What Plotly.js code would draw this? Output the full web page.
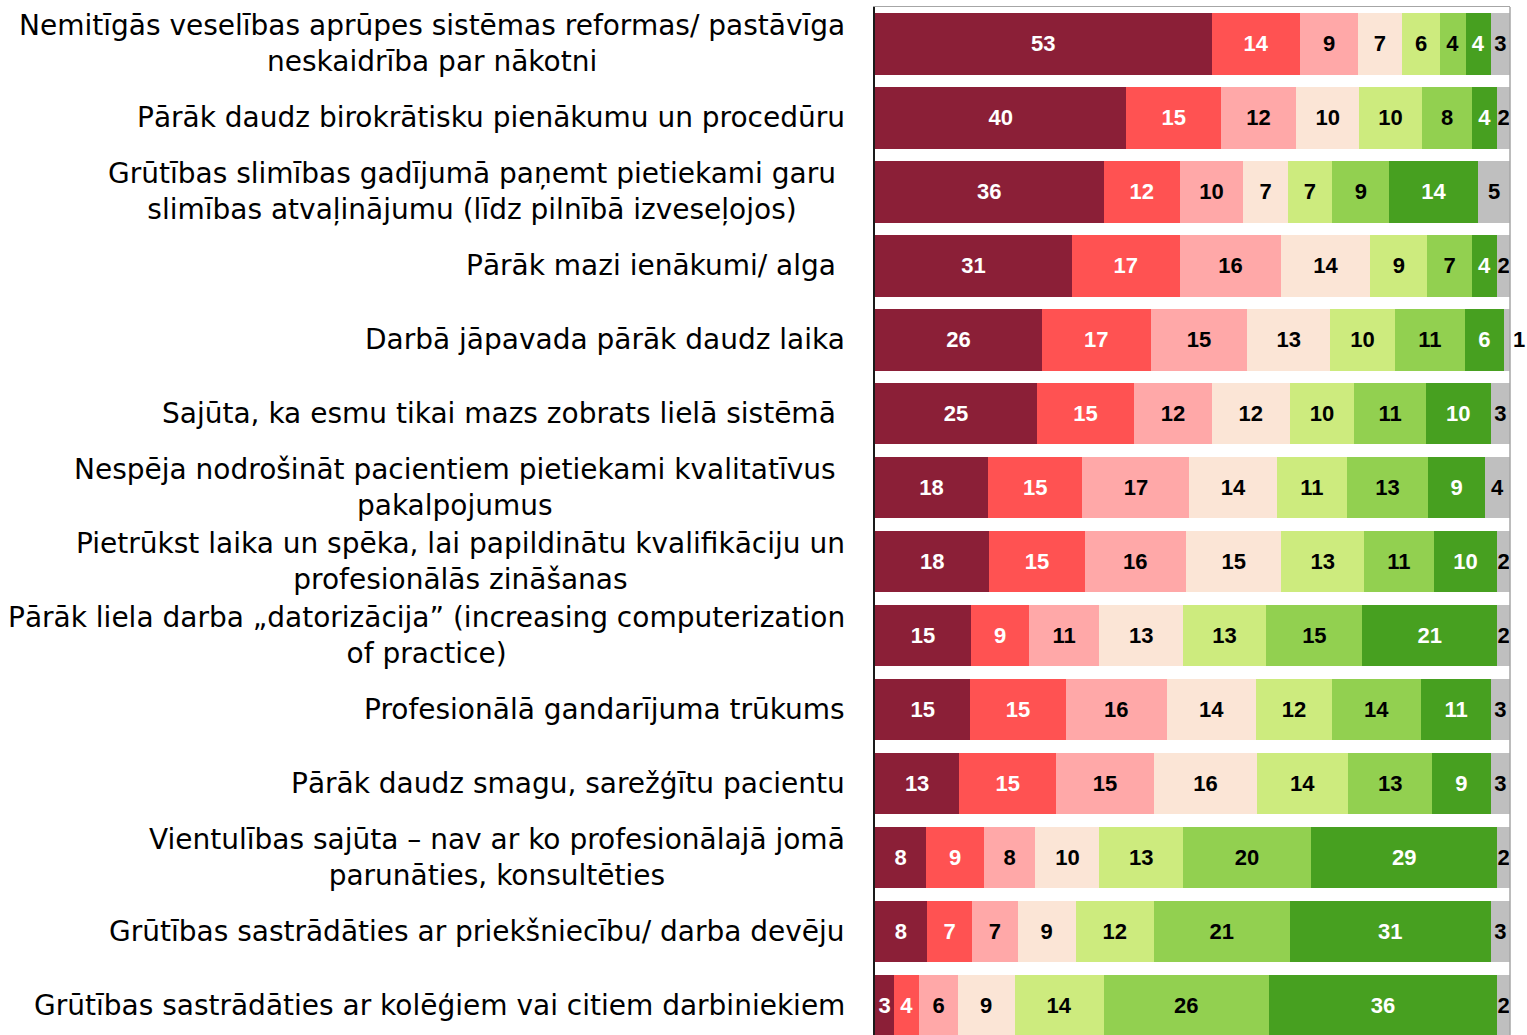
<!DOCTYPE html>
<html>
<head>
<meta charset="utf-8">
<script src="https://cdn.plot.ly/plotly-3.0.1.min.js"></script>
<style>html,body{margin:0;padding:0;background:#fff;overflow:hidden;}</style>
</head>
<body>
<div id="chart" style="width:1527px;height:1035px;"></div>
<script>
// Categories (top to bottom)
const categories = [
  "Nemitīgās veselības aprūpes sistēmas reformas/ pastāvīga<br>neskaidrība par nākotni",
  "Pārāk daudz birokrātisku pienākumu un procedūru",
  "Grūtības slimības gadījumā paņemt pietiekami garu<br>slimības atvaļinājumu (līdz pilnībā izveseļojos)",
  "Pārāk mazi ienākumi/ alga",
  "Darbā jāpavada pārāk daudz laika",
  "Sajūta, ka esmu tikai mazs zobrats lielā sistēmā",
  "Nespēja nodrošināt pacientiem pietiekami kvalitatīvus<br>pakalpojumus",
  "Pietrūkst laika un spēka, lai papildinātu kvalifikāciju un<br>profesionālās zināšanas",
  "Pārāk liela darba „datorizācija” (increasing computerization<br>of practice)",
  "Profesionālā gandarījuma trūkums",
  "Pārāk daudz smagu, sarežģītu pacientu",
  "Vientulības sajūta – nav ar ko profesionālajā jomā<br>parunāties, konsultēties",
  "Grūtības sastrādāties ar priekšniecību/ darba devēju",
  "Grūtības sastrādāties ar kolēģiem vai citiem darbiniekiem"
];

// Series values (one array per response level, in category order)
const level1 = [53, 40, 36, 31, 26, 25, 18, 18, 15, 15, 13, 8, 8, 3];
const level2 = [14, 15, 12, 17, 17, 15, 15, 15, 9, 15, 15, 9, 7, 4];
const level3 = [9, 12, 10, 16, 15, 12, 17, 16, 11, 16, 15, 8, 7, 6];
const level4 = [7, 10, 7, 14, 13, 12, 14, 15, 13, 14, 16, 10, 9, 9];
const level5 = [6, 10, 7, 9, 10, 10, 11, 13, 13, 12, 14, 13, 12, 14];
const level6 = [4, 8, 9, 7, 11, 11, 13, 11, 15, 14, 13, 20, 21, 26];
const level7 = [4, 4, 14, 4, 6, 10, 9, 10, 21, 11, 9, 29, 31, 36];
const level8 = [3, 2, 5, 2, 1, 3, 4, 2, 2, 3, 3, 2, 3, 2];

const seriesNames = ["1", "2", "3", "4", "5", "6", "7", "N/A"];
const seriesValues = [level1, level2, level3, level4, level5, level6, level7, level8];

// Styles
const colors = ["#8B1F37", "#FF5252", "#FFA8A8", "#FBE5D6", "#CDEB7E", "#92D050", "#47A020", "#BFBFBF"];
const labelColors = ["#FFFFFF", "#FFFFFF", "#000000", "#000000", "#000000", "#000000", "#FFFFFF", "#000000"];

const traces = seriesValues.map((vals, i) => ({
  type: "bar",
  orientation: "h",
  name: seriesNames[i],
  y: categories,
  x: vals,
  marker: { color: colors[i], line: { width: 0 } },
  text: vals.map(v => String(v)),
  texttemplate: "%{text}",
  textposition: vals.map(v => (i === seriesValues.length - 1 && v < 2) ? "outside" : "inside"),
  insidetextanchor: "middle",
  textangle: 0,
  constraintext: "none",
  cliponaxis: false,
  textfont: { family: "Liberation Sans, Arial, sans-serif", size: 22, color: labelColors[i], weight: "bold" },
  outsidetextfont: { family: "Liberation Sans, Arial, sans-serif", size: 22, color: "#000000", weight: "bold" },
  hoverinfo: "x+y"
}));

// Labels whose text block ends slightly further left in the reference
const insetLabels = [2, 3, 5, 6];

const annotations = categories.map((c, i) => ({
  xref: "paper",
  yref: "y",
  x: 0,
  y: c,
  xanchor: "right",
  yanchor: "middle",
  xshift: insetLabels.includes(i) ? -37 : -28,
  align: "center",
  text: c,
  showarrow: false,
  font: { family: "DejaVu Sans, sans-serif", size: 28, color: "#000000" }
}));

const layout = {
  width: 1527,
  height: 1035,
  margin: { l: 875, r: 17, t: 7, b: 0, pad: 0 },
  barmode: "stack",
  barnorm: "percent",
  bargap: 0.17,
  showlegend: false,
  paper_bgcolor: "#FFFFFF",
  plot_bgcolor: "#FFFFFF",
  font: { family: "Liberation Sans, Arial, sans-serif" },
  xaxis: {
    range: [0, 100],
    side: "top",
    showgrid: false,
    zeroline: false,
    showticklabels: false,
    ticks: "",
    showline: true,
    linecolor: "#A6A6A6",
    linewidth: 1.5,
    fixedrange: true
  },
  yaxis: {
    type: "category",
    range: [13.4, -0.5],
    showgrid: false,
    zeroline: false,
    showticklabels: false,
    ticks: "",
    showline: true,
    linecolor: "#1A1A1A",
    linewidth: 2,
    fixedrange: true
  },
  shapes: [{
    type: "line", xref: "paper", yref: "paper",
    x0: 1, x1: 1, y0: 0, y1: 1,
    line: { color: "#A6A6A6", width: 1.5 }
  }],
  annotations: annotations
};

Plotly.newPlot("chart", traces, layout, { displayModeBar: false, staticPlot: true });
</script>
</body>
</html>
